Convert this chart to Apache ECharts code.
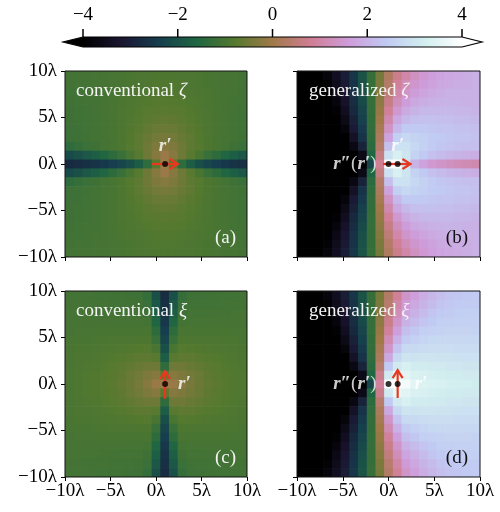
<!DOCTYPE html>
<html>
<head>
<meta charset="utf-8">
<script src="https://cdn.jsdelivr.net/npm/echarts@6/dist/echarts.min.js"></script>
<style>
    html, body { margin: 0; background: #fff; }
    #chart { width: 500px; height: 512px; }
</style>
</head>
<body>
<div id="chart"></div>
<script>
    // centres of the 21 x 21 sampling cells (units of lambda)
    var X_CELLS = [-9.52, -8.57, -7.62, -6.67, -5.71, -4.76, -3.81, -2.86, -1.9, -0.95, 0, 0.95, 1.9, 2.86, 3.81, 4.76, 5.71, 6.67, 7.62, 8.57, 9.52];
    var Y_CELLS = [9.52, 8.57, 7.62, 6.67, 5.71, 4.76, 3.81, 2.86, 1.9, 0.95, 0, -0.95, -1.9, -2.86, -3.81, -4.76, -5.71, -6.67, -7.62, -8.57, -9.52];
    var CELL_HALF = 10 / 21;

    var COLOR_TICKS = [-4, -2, 0, 2, 4];

    var SOURCE = [1, 0];        // r'
    var IMAGE_POINT = [0, 0];   // r''(r')
    // dipole arrows [x0, y0, x1, y1]
    var ARROW_A = [-0.45, 0, 2.4, 0];
    var ARROW_B = [-0.6, 0, 2.4, 0];
    var ARROW_C = [1, -1.6, 1, 1.4];
    var ARROW_D = [1, -1.5, 1, 1.5];

    // (a) conventional zeta, rows top -> bottom
    var FIELD_A = [
        [-1.06,-1.05,-1.04,-1.02,-1.01,-0.98,-0.96,-0.94,-0.92,-0.91,-0.9,-0.9,-0.9,-0.91,-0.92,-0.94,-0.96,-0.98,-1.01,-1.02,-1.04],
        [-1.07,-1.06,-1.05,-1.02,-1.0,-0.98,-0.96,-0.93,-0.91,-0.88,-0.86,-0.86,-0.86,-0.88,-0.91,-0.93,-0.96,-0.98,-1.0,-1.02,-1.05],
        [-1.09,-1.08,-1.05,-1.03,-1.01,-0.98,-0.94,-0.91,-0.88,-0.85,-0.83,-0.83,-0.83,-0.85,-0.88,-0.91,-0.94,-0.98,-1.01,-1.03,-1.05],
        [-1.1,-1.08,-1.06,-1.05,-1.01,-0.97,-0.94,-0.89,-0.85,-0.82,-0.8,-0.79,-0.8,-0.82,-0.85,-0.89,-0.94,-0.97,-1.01,-1.05,-1.06],
        [-1.12,-1.1,-1.08,-1.04,-1.01,-0.97,-0.92,-0.87,-0.82,-0.77,-0.75,-0.73,-0.75,-0.77,-0.82,-0.87,-0.92,-0.97,-1.01,-1.04,-1.08],
        [-1.12,-1.1,-1.08,-1.05,-1.02,-0.96,-0.91,-0.85,-0.79,-0.72,-0.68,-0.66,-0.68,-0.72,-0.79,-0.85,-0.91,-0.96,-1.02,-1.05,-1.08],
        [-1.13,-1.12,-1.09,-1.05,-1.01,-0.97,-0.91,-0.83,-0.75,-0.65,-0.58,-0.56,-0.58,-0.65,-0.75,-0.83,-0.91,-0.97,-1.01,-1.05,-1.09],
        [-1.15,-1.13,-1.1,-1.06,-1.03,-0.96,-0.9,-0.81,-0.71,-0.59,-0.48,-0.44,-0.48,-0.59,-0.71,-0.81,-0.9,-0.96,-1.03,-1.06,-1.1],
        [-1.37,-1.27,-1.2,-1.12,-1.06,-0.97,-0.9,-0.79,-0.7,-0.53,-0.37,-0.28,-0.37,-0.53,-0.7,-0.79,-0.9,-0.97,-1.06,-1.12,-1.2],
        [-2.15,-2.02,-1.9,-1.74,-1.58,-1.39,-1.21,-0.97,-0.76,-0.53,-0.27,-0.07,-0.27,-0.53,-0.76,-0.97,-1.21,-1.39,-1.58,-1.74,-1.9],
        [-2.79,-2.72,-2.66,-2.59,-2.51,-2.39,-2.25,-2.05,-1.79,-1.37,-0.76,0.0,-0.76,-1.37,-1.79,-2.05,-2.25,-2.39,-2.51,-2.59,-2.66],
        [-2.15,-2.02,-1.9,-1.74,-1.58,-1.39,-1.21,-0.97,-0.76,-0.53,-0.27,-0.07,-0.27,-0.53,-0.76,-0.97,-1.21,-1.39,-1.58,-1.74,-1.9],
        [-1.37,-1.27,-1.2,-1.12,-1.06,-0.97,-0.9,-0.79,-0.7,-0.53,-0.37,-0.28,-0.37,-0.53,-0.7,-0.79,-0.9,-0.97,-1.06,-1.12,-1.2],
        [-1.15,-1.13,-1.1,-1.06,-1.03,-0.96,-0.9,-0.81,-0.71,-0.59,-0.48,-0.44,-0.48,-0.59,-0.71,-0.81,-0.9,-0.96,-1.03,-1.06,-1.1],
        [-1.13,-1.12,-1.09,-1.05,-1.01,-0.97,-0.91,-0.83,-0.75,-0.65,-0.58,-0.56,-0.58,-0.65,-0.75,-0.83,-0.91,-0.97,-1.01,-1.05,-1.09],
        [-1.12,-1.1,-1.08,-1.05,-1.02,-0.96,-0.91,-0.85,-0.79,-0.72,-0.68,-0.66,-0.68,-0.72,-0.79,-0.85,-0.91,-0.96,-1.02,-1.05,-1.08],
        [-1.12,-1.1,-1.08,-1.04,-1.01,-0.97,-0.92,-0.87,-0.82,-0.77,-0.75,-0.73,-0.75,-0.77,-0.82,-0.87,-0.92,-0.97,-1.01,-1.04,-1.08],
        [-1.1,-1.08,-1.06,-1.05,-1.01,-0.97,-0.94,-0.89,-0.85,-0.82,-0.8,-0.79,-0.8,-0.82,-0.85,-0.89,-0.94,-0.97,-1.01,-1.05,-1.06],
        [-1.09,-1.08,-1.05,-1.03,-1.01,-0.98,-0.94,-0.91,-0.88,-0.85,-0.83,-0.83,-0.83,-0.85,-0.88,-0.91,-0.94,-0.98,-1.01,-1.03,-1.05],
        [-1.07,-1.06,-1.05,-1.02,-1.0,-0.98,-0.96,-0.93,-0.91,-0.88,-0.86,-0.86,-0.86,-0.88,-0.91,-0.93,-0.96,-0.98,-1.0,-1.02,-1.05],
        [-1.06,-1.05,-1.04,-1.02,-1.01,-0.98,-0.96,-0.94,-0.92,-0.91,-0.9,-0.9,-0.9,-0.91,-0.92,-0.94,-0.96,-0.98,-1.01,-1.02,-1.04]
    ];

    // (b) generalized zeta
    var FIELD_B = [
        [-4,-4,-4,-3.8,-3.45,-3.05,-2.55,-1.95,-1.25,-0.45,0.25,0.7,1.05,1.3,1.5,1.65,1.75,1.8,1.85,1.9,1.95],
        [-4,-4,-4,-3.9,-3.55,-3.12,-2.6,-2.0,-1.25,-0.38,0.35,0.85,1.2,1.45,1.6,1.7,1.8,1.85,1.9,1.9,1.95],
        [-4,-4,-4,-4,-3.65,-3.2,-2.65,-2.05,-1.26,-0.3,0.5,1.05,1.4,1.6,1.75,1.85,1.9,1.95,1.95,1.95,1.95],
        [-4,-4,-4,-4,-3.8,-3.3,-2.72,-2.15,-1.27,-0.2,0.65,1.25,1.6,1.8,1.9,1.95,2.0,2.0,2.0,1.95,1.95],
        [-4,-4,-4,-4,-3.95,-3.45,-2.82,-2.25,-1.28,-0.1,0.85,1.5,1.85,2.0,2.1,2.1,2.1,2.1,2.05,2.05,2.0],
        [-4,-4,-4,-4,-4,-3.6,-2.95,-2.35,-1.3,0.0,1.1,1.8,2.1,2.2,2.25,2.25,2.2,2.2,2.15,2.15,2.1],
        [-4,-4,-4,-4,-4,-3.8,-3.1,-2.45,-1.3,0.1,1.35,2.1,2.4,2.4,2.4,2.35,2.3,2.3,2.25,2.25,2.2],
        [-4,-4,-4,-4,-4,-4,-3.35,-2.6,-1.35,0.2,1.7,2.5,2.7,2.6,2.5,2.45,2.4,2.35,2.3,2.3,2.25],
        [-4,-4,-4,-4,-4,-4,-3.7,-2.9,-1.4,0.35,2.2,2.9,2.9,2.7,2.55,2.45,2.35,2.3,2.25,2.2,2.2],
        [-4,-4,-4,-4,-4,-4,-4,-3.6,-1.6,0.6,2.9,3.3,3.0,2.6,2.4,2.25,2.15,2.05,2.0,1.95,1.9],
        [-4,-4,-4,-4,-4,-4,-4,-4,-2.2,0.8,4,4,3.0,2.0,1.7,1.5,1.4,1.3,1.2,1.15,1.1],
        [-4,-4,-4,-4,-4,-4,-4,-3.6,-1.6,0.6,2.9,3.3,3.0,2.6,2.4,2.25,2.15,2.05,2.0,1.95,1.9],
        [-4,-4,-4,-4,-4,-4,-3.7,-2.9,-1.4,0.35,2.2,2.9,2.9,2.7,2.55,2.45,2.35,2.3,2.25,2.2,2.2],
        [-4,-4,-4,-4,-4,-4,-3.35,-2.6,-1.35,0.2,1.7,2.5,2.7,2.6,2.5,2.45,2.4,2.35,2.3,2.3,2.25],
        [-4,-4,-4,-4,-4,-3.8,-3.1,-2.45,-1.3,0.1,1.35,2.1,2.4,2.4,2.4,2.35,2.3,2.3,2.25,2.25,2.2],
        [-4,-4,-4,-4,-4,-3.6,-2.95,-2.35,-1.3,0.0,1.1,1.8,2.1,2.2,2.25,2.25,2.2,2.2,2.15,2.15,2.1],
        [-4,-4,-4,-4,-3.95,-3.45,-2.82,-2.25,-1.28,-0.1,0.85,1.5,1.85,2.0,2.1,2.1,2.1,2.1,2.05,2.05,2.0],
        [-4,-4,-4,-4,-3.8,-3.3,-2.72,-2.15,-1.27,-0.2,0.65,1.25,1.6,1.8,1.9,1.95,2.0,2.0,2.0,1.95,1.95],
        [-4,-4,-4,-4,-3.65,-3.2,-2.65,-2.05,-1.26,-0.3,0.5,1.05,1.4,1.6,1.75,1.85,1.9,1.95,1.95,1.95,1.95],
        [-4,-4,-4,-3.9,-3.55,-3.12,-2.6,-2.0,-1.25,-0.38,0.35,0.85,1.2,1.45,1.6,1.7,1.8,1.85,1.9,1.9,1.95],
        [-4,-4,-4,-3.8,-3.45,-3.05,-2.55,-1.95,-1.25,-0.45,0.25,0.7,1.05,1.3,1.5,1.65,1.75,1.8,1.85,1.9,1.95]
    ];

    // (c) conventional xi
    var FIELD_C = [
        [-1.05,-1.05,-1.06,-1.08,-1.08,-1.1,-1.1,-1.12,-1.13,-1.27,-2.02,-2.72,-2.02,-1.27,-1.13,-1.12,-1.1,-1.1,-1.08,-1.08,-1.06],
        [-1.04,-1.04,-1.05,-1.05,-1.06,-1.08,-1.08,-1.09,-1.1,-1.2,-1.9,-2.66,-1.9,-1.2,-1.1,-1.09,-1.08,-1.08,-1.06,-1.05,-1.05],
        [-1.02,-1.02,-1.02,-1.03,-1.05,-1.04,-1.05,-1.05,-1.06,-1.12,-1.74,-2.59,-1.74,-1.12,-1.06,-1.05,-1.05,-1.04,-1.05,-1.03,-1.02],
        [-1.01,-1.01,-1.0,-1.01,-1.01,-1.01,-1.02,-1.01,-1.03,-1.06,-1.58,-2.51,-1.58,-1.06,-1.03,-1.01,-1.02,-1.01,-1.01,-1.01,-1.0],
        [-0.99,-0.98,-0.98,-0.98,-0.97,-0.97,-0.96,-0.97,-0.96,-0.97,-1.39,-2.39,-1.39,-0.97,-0.96,-0.97,-0.96,-0.97,-0.97,-0.98,-0.98],
        [-0.97,-0.96,-0.96,-0.94,-0.94,-0.92,-0.91,-0.91,-0.9,-0.9,-1.21,-2.25,-1.21,-0.9,-0.9,-0.91,-0.91,-0.92,-0.94,-0.94,-0.96],
        [-0.96,-0.94,-0.93,-0.91,-0.89,-0.87,-0.85,-0.83,-0.81,-0.79,-0.97,-2.05,-0.97,-0.79,-0.81,-0.83,-0.85,-0.87,-0.89,-0.91,-0.93],
        [-0.95,-0.92,-0.91,-0.88,-0.85,-0.82,-0.79,-0.75,-0.71,-0.7,-0.76,-1.79,-0.76,-0.7,-0.71,-0.75,-0.79,-0.82,-0.85,-0.88,-0.91],
        [-0.94,-0.91,-0.88,-0.85,-0.82,-0.77,-0.72,-0.65,-0.59,-0.53,-0.53,-1.37,-0.53,-0.53,-0.59,-0.65,-0.72,-0.77,-0.82,-0.85,-0.88],
        [-0.93,-0.9,-0.86,-0.83,-0.8,-0.75,-0.68,-0.58,-0.48,-0.37,-0.27,-0.76,-0.27,-0.37,-0.48,-0.58,-0.68,-0.75,-0.8,-0.83,-0.86],
        [-0.93,-0.9,-0.86,-0.83,-0.79,-0.73,-0.66,-0.56,-0.44,-0.28,-0.07,0.0,-0.07,-0.28,-0.44,-0.56,-0.66,-0.73,-0.79,-0.83,-0.86],
        [-0.93,-0.9,-0.86,-0.83,-0.8,-0.75,-0.68,-0.58,-0.48,-0.37,-0.27,-0.76,-0.27,-0.37,-0.48,-0.58,-0.68,-0.75,-0.8,-0.83,-0.86],
        [-0.94,-0.91,-0.88,-0.85,-0.82,-0.77,-0.72,-0.65,-0.59,-0.53,-0.53,-1.37,-0.53,-0.53,-0.59,-0.65,-0.72,-0.77,-0.82,-0.85,-0.88],
        [-0.95,-0.92,-0.91,-0.88,-0.85,-0.82,-0.79,-0.75,-0.71,-0.7,-0.76,-1.79,-0.76,-0.7,-0.71,-0.75,-0.79,-0.82,-0.85,-0.88,-0.91],
        [-0.96,-0.94,-0.93,-0.91,-0.89,-0.87,-0.85,-0.83,-0.81,-0.79,-0.97,-2.05,-0.97,-0.79,-0.81,-0.83,-0.85,-0.87,-0.89,-0.91,-0.93],
        [-0.97,-0.96,-0.96,-0.94,-0.94,-0.92,-0.91,-0.91,-0.9,-0.9,-1.21,-2.25,-1.21,-0.9,-0.9,-0.91,-0.91,-0.92,-0.94,-0.94,-0.96],
        [-0.99,-0.98,-0.98,-0.98,-0.97,-0.97,-0.96,-0.97,-0.96,-0.97,-1.39,-2.39,-1.39,-0.97,-0.96,-0.97,-0.96,-0.97,-0.97,-0.98,-0.98],
        [-1.01,-1.01,-1.0,-1.01,-1.01,-1.01,-1.02,-1.01,-1.03,-1.06,-1.58,-2.51,-1.58,-1.06,-1.03,-1.01,-1.02,-1.01,-1.01,-1.01,-1.0],
        [-1.02,-1.02,-1.02,-1.03,-1.05,-1.04,-1.05,-1.05,-1.06,-1.12,-1.74,-2.59,-1.74,-1.12,-1.06,-1.05,-1.05,-1.04,-1.05,-1.03,-1.02],
        [-1.04,-1.04,-1.05,-1.05,-1.06,-1.08,-1.08,-1.09,-1.1,-1.2,-1.9,-2.66,-1.9,-1.2,-1.1,-1.09,-1.08,-1.08,-1.06,-1.05,-1.05],
        [-1.05,-1.05,-1.06,-1.08,-1.08,-1.1,-1.1,-1.12,-1.13,-1.27,-2.02,-2.72,-2.02,-1.27,-1.13,-1.12,-1.1,-1.1,-1.08,-1.08,-1.06]
    ];

    // (d) generalized xi
    var FIELD_D = [
        [-4,-4,-4,-3.8,-3.45,-3.05,-2.55,-1.95,-1.25,-0.45,0.3,0.85,1.4,1.65,1.9,2.05,2.2,2.3,2.35,2.4,2.42],
        [-4,-4,-4,-3.9,-3.55,-3.12,-2.6,-2.0,-1.25,-0.38,0.4,1.0,1.55,1.8,2.0,2.15,2.3,2.38,2.42,2.45,2.45],
        [-4,-4,-4,-4,-3.65,-3.2,-2.65,-2.05,-1.26,-0.3,0.55,1.2,1.75,1.95,2.15,2.3,2.4,2.45,2.48,2.5,2.5],
        [-4,-4,-4,-4,-3.8,-3.3,-2.72,-2.15,-1.27,-0.2,0.7,1.4,1.95,2.15,2.3,2.4,2.5,2.52,2.55,2.55,2.55],
        [-4,-4,-4,-4,-3.95,-3.45,-2.82,-2.25,-1.28,-0.1,0.9,1.65,2.2,2.35,2.5,2.55,2.6,2.62,2.62,2.62,2.6],
        [-4,-4,-4,-4,-4,-3.6,-2.95,-2.35,-1.3,0.0,1.15,1.95,2.45,2.55,2.65,2.7,2.72,2.72,2.72,2.7,2.7],
        [-4,-4,-4,-4,-4,-3.8,-3.1,-2.45,-1.3,0.1,1.4,2.3,2.75,2.75,2.8,2.85,2.85,2.85,2.8,2.8,2.8],
        [-4,-4,-4,-4,-4,-4,-3.35,-2.6,-1.35,0.2,1.8,2.7,3.0,2.95,3.0,3.0,2.95,2.95,2.9,2.9,2.9],
        [-4,-4,-4,-4,-4,-4,-3.7,-2.9,-1.4,0.4,2.4,3.1,3.3,3.15,3.15,3.1,3.1,3.05,3.05,3.0,3.0],
        [-4,-4,-4,-4,-4,-4,-4,-3.6,-1.6,0.7,3.1,3.6,3.5,3.35,3.3,3.25,3.2,3.15,3.15,3.1,3.1],
        [-4,-4,-4,-4,-4,-4,-4,-4,-2.2,0.9,4,4,3.8,3.5,3.4,3.35,3.3,3.25,3.2,3.2,3.15],
        [-4,-4,-4,-4,-4,-4,-4,-3.6,-1.6,0.7,3.1,3.6,3.5,3.35,3.3,3.25,3.2,3.15,3.15,3.1,3.1],
        [-4,-4,-4,-4,-4,-4,-3.7,-2.9,-1.4,0.4,2.4,3.1,3.3,3.15,3.15,3.1,3.1,3.05,3.05,3.0,3.0],
        [-4,-4,-4,-4,-4,-4,-3.35,-2.6,-1.35,0.2,1.8,2.7,3.0,2.95,3.0,3.0,2.95,2.95,2.9,2.9,2.9],
        [-4,-4,-4,-4,-4,-3.8,-3.1,-2.45,-1.3,0.1,1.4,2.3,2.75,2.75,2.8,2.85,2.85,2.85,2.8,2.8,2.8],
        [-4,-4,-4,-4,-4,-3.6,-2.95,-2.35,-1.3,0.0,1.15,1.95,2.45,2.55,2.65,2.7,2.72,2.72,2.72,2.7,2.7],
        [-4,-4,-4,-4,-3.95,-3.45,-2.82,-2.25,-1.28,-0.1,0.9,1.65,2.2,2.35,2.5,2.55,2.6,2.62,2.62,2.62,2.6],
        [-4,-4,-4,-4,-3.8,-3.3,-2.72,-2.15,-1.27,-0.2,0.7,1.4,1.95,2.15,2.3,2.4,2.5,2.52,2.55,2.55,2.55],
        [-4,-4,-4,-4,-3.65,-3.2,-2.65,-2.05,-1.26,-0.3,0.55,1.2,1.75,1.95,2.15,2.3,2.4,2.45,2.48,2.5,2.5],
        [-4,-4,-4,-3.9,-3.55,-3.12,-2.6,-2.0,-1.25,-0.38,0.4,1.0,1.55,1.8,2.0,2.15,2.3,2.38,2.42,2.45,2.45],
        [-4,-4,-4,-3.8,-3.45,-3.05,-2.55,-1.95,-1.25,-0.45,0.3,0.85,1.4,1.65,1.9,2.05,2.2,2.3,2.35,2.4,2.42]
    ];

    // cubehelix
    var CMAP = ['#000000', '#1a1530', '#163d4e', '#1f6642', '#54792f', '#a07949',
                '#d07e93', '#cf9cda', '#c1caf3', '#d2eeef', '#ffffff'];
    var FONT = '"Liberation Serif", "DejaVu Serif", serif';
    var ARROW_COLOR = '#e8381f';

    var grids = [
        { left: 65, top: 71, width: 182, height: 186 },
        { left: 297, top: 71, width: 183, height: 186 },
        { left: 65, top: 291, width: 182, height: 186 },
        { left: 297, top: 291, width: 183, height: 186 }
    ];
    var CBAR = { left: 83, top: 27, width: 379, height: 20 };

    function lam(v) {
        return (v < 0 ? '\u2212' + (-v) : v) + '\u03bb';
    }

    function cellData(field) {
        var out = [];
        for (var r = 0; r < Y_CELLS.length; r++) {
            for (var c = 0; c < X_CELLS.length; c++) {
                out.push([X_CELLS[c], Y_CELLS[r], field[r][c]]);
            }
        }
        return out;
    }

    function renderCell(params, api) {
        var x = api.value(0), y = api.value(1);
        var p0 = api.coord([x - CELL_HALF, y + CELL_HALF]);
        var p1 = api.coord([x + CELL_HALF, y - CELL_HALF]);
        return {
            type: 'rect',
            shape: { x: p0[0], y: p0[1], width: p1[0] - p0[0] + 0.7, height: p1[1] - p0[1] + 0.7 },
            style: { fill: api.visual('color') }
        };
    }

    function renderArrow(params, api) {
        var p0 = api.coord([api.value(0), api.value(1)]);
        var p1 = api.coord([api.value(2), api.value(3)]);
        var dx = p1[0] - p0[0], dy = p1[1] - p0[1];
        var len = Math.sqrt(dx * dx + dy * dy);
        var ux = dx / len, uy = dy / len;
        var hl = 8, hw = 5;
        var b = [p1[0] - ux * hl, p1[1] - uy * hl];
        return {
            type: 'group',
            children: [
                { type: 'line', shape: { x1: p0[0], y1: p0[1], x2: p1[0] - ux * 1.5, y2: p1[1] - uy * 1.5 },
                  style: { stroke: ARROW_COLOR, lineWidth: 2.2 } },
                { type: 'polyline', shape: { points: [[b[0] - uy * hw, b[1] + ux * hw], p1, [b[0] + uy * hw, b[1] - ux * hw]] },
                  style: { stroke: ARROW_COLOR, lineWidth: 2.2, fill: null, lineJoin: 'miter' } }
            ]
        };
    }

    // colorbar grid: bar occupies y in [0, 1]
    function renderColorbar(params, api) {
        var p0 = api.coord([api.value(0), 1]);
        var p1 = api.coord([api.value(1), 0]);
        var h = p1[1] - p0[1], mid = p0[1] + h / 2, tip = 20;
        var stops = CMAP.map(function (c, i) { return { offset: i / (CMAP.length - 1), color: c }; });
        return {
            type: 'group',
            children: [
                { type: 'rect', shape: { x: p0[0], y: p0[1], width: p1[0] - p0[0], height: h },
                  style: { fill: { type: 'linear', x: 0, y: 0, x2: 1, y2: 0, colorStops: stops } } },
                { type: 'polygon', shape: { points: [[p0[0] + 0.5, p0[1]], [p0[0] - tip, mid], [p0[0] + 0.5, p1[1]]] },
                  style: { fill: CMAP[0] } },
                { type: 'polygon', shape: { points: [[p1[0] - 0.5, p0[1]], [p1[0] + tip, mid], [p1[0] - 0.5, p1[1]]] },
                  style: { fill: CMAP[CMAP.length - 1] } },
                { type: 'polygon', shape: { points: [[p0[0], p0[1]], [p1[0], p0[1]], [p1[0] + tip, mid], [p1[0], p1[1]], [p0[0], p1[1]], [p0[0] - tip, mid]] },
                  style: { fill: null, stroke: '#000', lineWidth: 1.2 } }
            ]
        };
    }

    function xAxisFor(gi, labels) {
        return {
            type: 'value', gridIndex: gi, min: -10, max: 10, interval: 5, position: 'bottom',
            axisLine: { show: false, onZero: false },
            axisTick: { length: 4, lineStyle: { color: '#000', width: 1 } },
            axisLabel: { show: labels, formatter: lam, color: '#000', fontFamily: FONT, fontSize: 19, margin: 5 },
            splitLine: { show: false }
        };
    }

    function yAxisFor(gi, labels) {
        return {
            type: 'value', gridIndex: gi, min: -10, max: 10, interval: 5, position: 'left',
            axisLine: { show: false, onZero: false },
            axisTick: { length: 4, lineStyle: { color: '#000', width: 1 } },
            axisLabel: { show: labels, formatter: lam, color: '#000', fontFamily: FONT, fontSize: 19, margin: 8 },
            splitLine: { show: false }
        };
    }

    var boldR = { fontFamily: FONT, fontSize: 19, fontStyle: 'italic', fontWeight: 'bold', color: '#fff' };
    var plainP = { fontFamily: FONT, fontSize: 19, color: '#fff' };

    function dot(point, pos, text, dist) {
        return {
            value: point,
            label: {
                show: true, position: pos, distance: dist, formatter: text,
                rich: { r: boldR, p: plainP }
            }
        };
    }

    var rPrime = '{r|r\u2032}';
    var rImage = '{r|r\u2033}{p|(}{r|r\u2032}{p|)}';

    var fields = [FIELD_A, FIELD_B, FIELD_C, FIELD_D];
    var arrows = [ARROW_A, ARROW_B, ARROW_C, ARROW_D];
    var dots = [
        [dot(SOURCE, 'top', rPrime, 5)],
        [dot(IMAGE_POINT, 'left', rImage, 9), dot(SOURCE, 'top', rPrime, 5)],
        [dot(SOURCE, 'right', rPrime, 10)],
        [dot(IMAGE_POINT, 'left', rImage, 9), dot(SOURCE, 'right', rPrime, 14)]
    ];

    var series = [];
    fields.forEach(function (f, i) {
        series.push({ type: 'custom', xAxisIndex: i, yAxisIndex: i, renderItem: renderCell, data: cellData(f), clip: true, z: 1, silent: true });
    });
    arrows.forEach(function (a, i) {
        series.push({ type: 'custom', xAxisIndex: i, yAxisIndex: i, renderItem: renderArrow, data: [a], z: 3, silent: true });
    });
    dots.forEach(function (d, i) {
        series.push({ type: 'scatter', xAxisIndex: i, yAxisIndex: i, data: d, symbolSize: 6, itemStyle: { color: '#000' }, z: 4, silent: true });
    });
    series.push({ type: 'custom', xAxisIndex: 4, yAxisIndex: 4, renderItem: renderColorbar, data: [[COLOR_TICKS[0], COLOR_TICKS[COLOR_TICKS.length - 1]]], clip: false, silent: true, z: 1 });

    function panelText(x, y, text, align, color) {
        return {
            type: 'text', x: x, y: y, z: 10, silent: true,
            style: {
                text: text, fill: color, font: '19px ' + FONT, align: align, verticalAlign: 'middle',
                rich: { i: { fontFamily: FONT, fontSize: 19, fontStyle: 'italic', color: color } }
            }
        };
    }

    // colorbar tick marks on their own layer, one per COLOR_TICKS entry,
    // spaced along the colorbar grid the same way its value axis is
    var barTop = CBAR.top + CBAR.height / 2;
    var tickMarks = COLOR_TICKS.map(function (t) {
        var x = CBAR.left + (t - COLOR_TICKS[0]) / (COLOR_TICKS[COLOR_TICKS.length - 1] - COLOR_TICKS[0]) * CBAR.width;
        return { type: 'rect', zlevel: 1, z: 100, silent: true,
                 shape: { x: x - 0.75, y: barTop - 8, width: 1.5, height: 8 },
                 style: { fill: '#000' } };
    });

    var chart = echarts.init(document.getElementById('chart'));
    chart.setOption({
        animation: false,
        backgroundColor: '#fff',
        grid: grids.map(function (g) {
            return { left: g.left, top: g.top, width: g.width, height: g.height, show: true, z: 5,
                     backgroundColor: 'transparent', borderColor: '#111', borderWidth: 1 };
        }).concat([CBAR]),
        xAxis: [xAxisFor(0, false), xAxisFor(1, false), xAxisFor(2, true), xAxisFor(3, true), {
            type: 'value', gridIndex: 4, min: -4, max: 4, interval: 2, position: 'top',
            axisLine: { show: false, onZero: false },
            axisTick: { show: false },
            axisLabel: { formatter: function (v) { return v < 0 ? '\u2212' + (-v) : String(v); },
                         color: '#000', fontFamily: FONT, fontSize: 19, margin: 2 },
            splitLine: { show: false }
        }],
        yAxis: [yAxisFor(0, true), yAxisFor(1, false), yAxisFor(2, true), yAxisFor(3, false), {
            type: 'value', gridIndex: 4, min: 0, max: 2, show: false
        }],
        visualMap: {
            type: 'continuous', show: false, seriesIndex: [0, 1, 2, 3], dimension: 2,
            min: COLOR_TICKS[0], max: COLOR_TICKS[COLOR_TICKS.length - 1],
            inRange: { color: CMAP }
        },
        graphic: [
            panelText(76, 91, 'conventional {i|\u03b6}', 'left', '#f4f4f4'),
            panelText(309, 91, 'generalized {i|\u03b6}', 'left', '#f4f4f4'),
            panelText(76, 311, 'conventional {i|\u03be}', 'left', '#f4f4f4'),
            panelText(309, 311, 'generalized {i|\u03be}', 'left', '#f4f4f4'),
            panelText(236, 238, '(a)', 'right', '#f4f4f4'),
            panelText(468, 238, '(b)', 'right', '#111'),
            panelText(236, 458, '(c)', 'right', '#f4f4f4'),
            panelText(468, 458, '(d)', 'right', '#111')
        ].concat(tickMarks),
        series: series
    });
</script>
</body>
</html>
